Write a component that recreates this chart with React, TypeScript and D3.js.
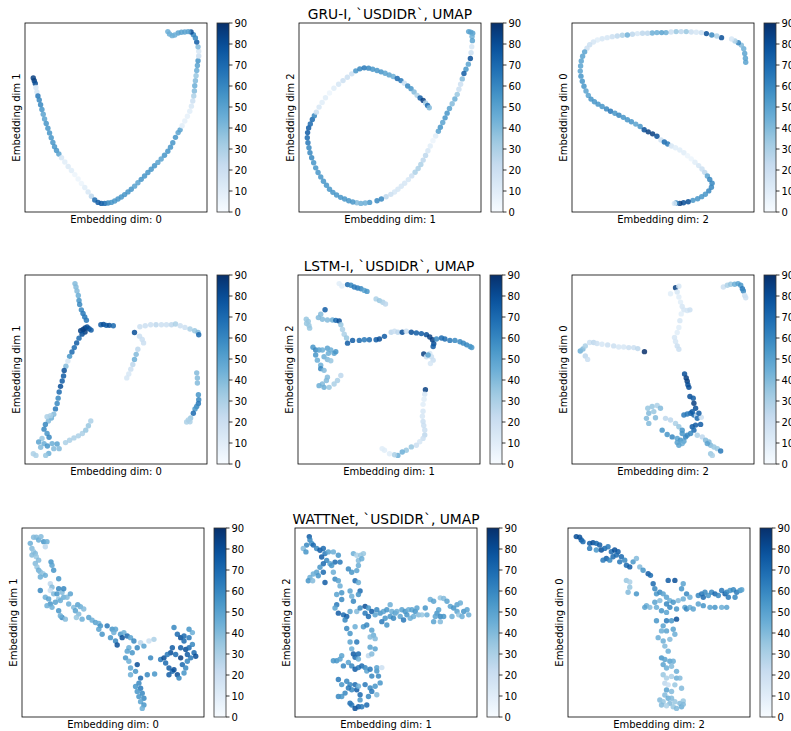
import React from 'react';
import * as d3 from 'd3';

type P = [number, number, number];

// embedding coordinates (arbitrary units) and value per point
const gruDim01: P[] = [[100,237,85],[103,245,85],[106,253,80],[108,265,15],[111,278,15],[114,290,65],[118,302,60],[122,316,60],[126,330,55],[130,344,50],[134,358,50],[139,371,55],[144,385,55],[149,399,55],[154,413,55],[159,427,55],[164,440,55],[170,451,55],[177,461,50],[185,472,15],[195,485,10],[205,498,12],[215,510,10],[225,522,5],[235,535,5],[245,548,5],[255,560,10],[265,573,15],[275,586,25],[285,597,70],[295,604,75],[305,607,75],[315,607,70],[325,606,60],[335,604,55],[345,600,55],[355,594,55],[365,588,55],[375,581,55],[385,573,55],[395,565,55],[405,556,50],[415,546,50],[425,536,55],[435,526,55],[445,516,55],[455,506,55],[465,496,55],[475,486,50],[485,476,50],[495,465,55],[505,453,55],[513,441,55],[520,428,55],[528,412,55],[536,398,50],[542,390,50],[548,378,10],[556,364,8],[564,350,8],[571,335,10],[576,320,15],[580,305,20],[583,290,30],[585,275,40],[586,260,45],[588,245,40],[590,230,35],[592,215,45],[594,200,50],[596,186,55],[598,172,20],[598,158,15],[596,145,40],[592,131,75],[588,119,60],[582,109,60],[575,101,80],[566,100,50],[556,101,50],[546,102,50],[536,104,50],[526,110,45],[518,112,45],[510,107,45],[505,100,45]];

const gruDim12: P[] = [[590,95,50],[596,97,50],[602,100,50],[600,110,45],[601,122,50],[599,140,15],[597,158,20],[595,175,80],[589,192,50],[582,207,55],[576,220,75],[571,236,40],[566,252,20],[561,267,20],[556,282,35],[549,296,45],[541,310,40],[533,324,50],[526,338,55],[520,352,55],[513,366,50],[506,380,55],[500,392,50],[492,406,10],[484,420,5],[476,436,10],[469,450,15],[462,464,25],[455,478,25],[448,491,30],[440,503,30],[431,514,30],[421,525,20],[411,536,15],[400,547,15],[390,556,15],[380,565,15],[370,573,15],[359,580,20],[345,587,25],[331,594,60],[318,599,60],[296,604,55],[283,606,45],[270,607,45],[258,605,40],[246,603,55],[234,599,55],[222,594,55],[210,589,55],[198,582,55],[187,574,55],[177,565,55],[168,553,55],[159,541,55],[151,528,55],[143,515,55],[136,501,55],[130,486,55],[124,471,60],[119,456,60],[116,441,60],[113,426,65],[111,411,70],[112,396,75],[115,382,75],[120,370,70],[126,357,70],[132,346,60],[138,335,20],[146,320,15],[155,306,10],[165,292,10],[177,278,5],[190,264,10],[204,252,15],[217,241,20],[230,231,20],[243,221,20],[255,212,55],[267,206,60],[280,203,65],[293,204,60],[305,207,55],[318,211,55],[330,215,55],[342,219,50],[354,224,50],[366,229,45],[378,235,70],[389,241,65],[399,249,20],[409,257,60],[419,265,55],[428,275,40],[437,285,30],[446,293,75],[455,300,85],[462,308,30],[468,315,70],[473,322,40]];

const gruDim20: P[] = [[642,188,50],[641,176,50],[639,162,50],[636,148,45],[629,137,40],[620,130,60],[610,125,30],[600,119,15],[570,115,80],[556,110,30],[541,107,60],[525,103,80],[510,100,20],[495,99,15],[480,98,20],[465,97,35],[450,97,25],[435,97,35],[420,98,20],[405,100,45],[392,100,50],[378,100,45],[364,101,45],[350,102,25],[335,102,25],[320,103,15],[305,105,25],[290,107,45],[275,108,30],[260,110,25],[245,112,20],[230,115,15],[215,118,15],[201,122,10],[189,128,15],[178,136,20],[170,146,20],[163,157,50],[157,170,50],[153,184,50],[151,199,50],[150,214,50],[152,229,55],[156,244,55],[161,259,55],[167,273,50],[174,286,50],[182,297,55],[192,305,55],[203,312,55],[215,319,55],[228,326,60],[240,333,65],[253,339,55],[265,345,60],[278,351,55],[290,358,55],[302,364,55],[315,371,50],[328,378,55],[340,388,80],[352,394,85],[365,400,85],[378,407,80],[390,418,20],[400,424,70],[410,430,65],[421,436,15],[433,441,10],[446,448,10],[458,456,10],[469,465,5],[480,474,5],[491,484,10],[502,494,15],[512,504,20],[520,514,25],[528,525,50],[535,535,60],[542,546,60],[540,558,60],[532,569,60],[522,579,55],[511,586,55],[499,592,55],[485,597,55],[471,601,80],[457,604,80],[446,606,85],[435,605,60],[430,606,15]];

const lstmDim01: P[] = [[228,100,40],[231,110,40],[234,122,40],[238,135,45],[240,150,55],[242,162,60],[247,178,60],[252,189,65],[257,199,65],[262,209,65],[245,240,85],[252,236,85],[258,232,85],[264,229,80],[270,234,80],[258,244,85],[249,250,80],[276,238,75],[305,222,75],[313,221,80],[321,224,75],[330,224,80],[342,225,70],[240,262,70],[233,276,75],[226,290,70],[219,303,70],[212,316,55],[207,330,15],[201,345,40],[196,358,80],[194,374,75],[190,389,75],[185,405,80],[181,422,70],[178,440,60],[175,456,60],[170,472,65],[165,488,40],[158,499,45],[149,508,40],[140,518,60],[136,532,60],[145,545,55],[151,556,60],[130,560,35],[120,570,50],[136,575,45],[146,582,55],[160,575,45],[175,576,50],[165,590,40],[150,604,45],[141,610,35],[104,605,30],[112,610,30],[126,586,40],[181,590,40],[145,495,30],[155,492,30],[200,572,30],[212,565,30],[225,558,30],[238,552,30],[250,545,30],[260,535,35],[268,522,35],[275,508,30],[405,245,80],[421,228,20],[437,225,20],[453,222,20],[469,222,25],[485,222,20],[500,222,20],[515,222,25],[527,220,30],[541,225,20],[555,230,20],[570,235,30],[584,240,35],[594,245,40],[596,252,70],[420,256,20],[428,266,20],[432,276,20],[415,295,25],[410,310,40],[405,325,45],[400,340,25],[394,354,20],[388,368,15],[382,380,15],[590,365,40],[592,380,40],[592,395,40],[595,430,55],[596,445,60],[595,456,65],[590,465,60],[585,472,55],[580,485,70],[572,499,35],[565,505,30],[560,511,30],[570,510,30]];

const lstmDim12: P[] = [[210,105,10],[218,112,10],[235,108,70],[245,110,60],[255,115,65],[265,118,65],[275,120,60],[285,125,50],[293,128,55],[320,150,30],[330,155,35],[340,160,30],[348,165,25],[168,182,75],[155,195,40],[148,205,40],[160,210,40],[175,212,40],[190,212,45],[200,213,70],[210,215,80],[215,226,35],[220,240,30],[225,254,30],[232,265,35],[112,210,35],[118,216,35],[113,222,35],[120,228,35],[122,236,35],[235,280,75],[250,272,75],[270,272,70],[285,270,65],[300,270,70],[320,270,75],[330,268,80],[345,260,75],[365,248,25],[375,245,20],[385,248,25],[398,248,80],[410,245,20],[425,248,80],[440,250,75],[455,252,75],[470,255,80],[480,262,85],[488,270,85],[492,282,80],[490,290,75],[500,268,60],[515,265,70],[525,268,70],[540,272,65],[555,272,60],[570,276,60],[580,280,60],[590,285,60],[600,290,55],[605,293,55],[462,312,85],[470,320,20],[480,310,15],[485,320,20],[490,330,20],[482,340,15],[475,315,50],[132,292,55],[140,300,60],[150,300,50],[160,300,45],[175,295,50],[185,300,45],[178,310,45],[165,320,45],[175,328,40],[185,332,35],[195,310,50],[200,305,55],[140,315,55],[145,330,45],[155,345,45],[155,355,60],[165,360,40],[175,380,40],[172,390,40],[160,400,40],[165,410,45],[180,410,35],[195,400,30],[205,390,30],[215,375,25],[150,405,45],[467,417,85],[465,430,15],[463,445,10],[460,460,10],[460,480,15],[458,495,15],[460,510,20],[462,522,20],[465,535,20],[465,550,25],[460,560,20],[450,570,15],[440,580,20],[425,585,35],[410,595,35],[398,600,45],[385,610,45],[375,608,30],[360,605,10],[345,595,10],[338,590,10]];

const lstmDim20: P[] = [[578,110,20],[590,105,30],[600,102,35],[612,102,45],[622,100,50],[630,105,55],[635,115,65],[638,122,60],[642,135,20],[645,142,20],[435,112,85],[445,108,15],[440,125,15],[420,130,10],[445,140,10],[450,155,10],[455,168,15],[460,178,15],[470,180,15],[478,178,20],[452,190,10],[448,210,15],[445,230,10],[440,245,10],[432,260,15],[435,272,15],[440,285,20],[445,295,20],[150,300,45],[158,294,40],[165,285,30],[178,275,20],[190,275,25],[200,278,20],[215,280,15],[232,282,20],[250,285,20],[265,288,15],[280,288,15],[295,290,20],[310,290,20],[322,293,25],[342,302,90],[165,315,25],[172,325,20],[462,368,80],[467,380,85],[470,390,85],[472,400,80],[475,408,80],[478,435,80],[488,440,75],[490,455,85],[495,470,80],[485,480,75],[490,490,70],[480,485,75],[470,487,65],[460,490,65],[498,492,20],[500,500,70],[512,497,20],[505,485,75],[485,525,75],[495,520,75],[490,535,70],[510,518,75],[480,545,60],[470,550,60],[500,550,30],[515,555,25],[525,565,40],[535,570,40],[540,580,40],[550,585,35],[560,590,35],[570,597,65],[530,575,50],[540,605,35],[545,610,30],[352,470,35],[365,465,35],[380,462,30],[390,470,40],[370,480,35],[355,485,40],[348,500,40],[355,515,40],[375,498,40],[405,500,25],[420,505,25],[435,515,30],[445,525,35],[455,535,55],[395,535,55],[410,548,55],[425,555,60],[440,560,50],[450,565,55],[460,568,50],[440,572,50],[455,575,45],[445,580,50],[465,555,60],[455,545,55]];

const wattDim01: P[] = [[100,112,40],[108,112,40],[115,120,45],[122,110,40],[130,125,55],[140,125,45],[135,140,25],[90,130,45],[95,145,40],[100,155,35],[105,160,40],[95,165,40],[108,170,35],[115,180,40],[105,190,40],[110,200,35],[115,210,45],[120,215,40],[128,220,35],[120,230,45],[135,225,45],[152,185,55],[155,195,50],[160,210,55],[150,250,25],[155,260,40],[150,270,20],[120,270,60],[160,280,40],[175,235,55],[175,265,60],[170,280,55],[175,295,35],[185,275,40],[190,265,60],[190,290,45],[200,290,40],[210,280,50],[135,290,45],[145,295,50],[150,310,55],[140,315,45],[155,320,45],[165,305,50],[180,300,45],[205,310,45],[175,330,55],[185,350,60],[180,345,45],[195,355,40],[220,320,40],[225,330,50],[232,312,50],[240,318,45],[235,340,40],[245,355,45],[250,325,40],[228,350,35],[265,350,50],[275,358,45],[285,365,50],[295,368,45],[300,375,55],[295,385,50],[305,400,55],[320,375,65],[335,385,55],[345,385,50],[340,395,45],[330,410,55],[345,420,60],[350,432,80],[360,400,55],[370,395,45],[380,405,70],[365,410,80],[390,410,50],[400,420,60],[385,440,45],[380,450,50],[395,455,55],[410,440,60],[420,425,25],[430,435,50],[445,420,20],[460,415,30],[375,470,55],[385,480,45],[390,500,50],[390,520,45],[410,490,80],[405,510,55],[420,530,70],[415,545,60],[405,555,55],[420,560,65],[410,570,55],[425,575,60],[415,585,55],[430,590,60],[420,600,50],[430,610,55],[425,620,45],[440,520,60],[450,470,60],[462,518,55],[480,475,65],[490,470,80],[495,485,70],[505,500,75],[515,510,70],[520,505,80],[530,520,80],[535,530,60],[520,380,60],[530,400,70],[540,410,80],[550,405,70],[565,410,65],[550,420,70],[540,440,75],[555,445,80],[565,440,70],[575,430,60],[580,455,70],[585,465,80],[570,470,65],[560,480,60],[545,490,70],[555,500,60],[525,460,70],[515,440,75],[510,455,80],[500,460,65],[540,470,85],[560,460,75],[550,515,55],[575,395,45],[565,385,55],[505,520,75]];

const wattDim12: P[] = [[118,110,75],[120,120,60],[125,130,55],[110,135,60],[100,145,40],[108,155,55],[130,135,70],[140,145,60],[150,150,75],[160,145,70],[165,160,65],[155,170,75],[170,180,60],[160,190,70],[180,190,50],[175,155,50],[190,155,45],[205,165,55],[210,185,65],[195,185,70],[185,195,55],[150,200,55],[140,215,50],[130,220,45],[120,230,45],[115,240,55],[128,240,40],[145,225,55],[160,215,70],[165,245,75],[190,215,45],[195,235,60],[205,240,50],[210,255,45],[200,280,50],[215,275,55],[240,270,50],[245,285,45],[235,205,60],[245,215,55],[260,210,50],[265,195,45],[250,160,45],[260,165,30],[272,165,35],[280,160,35],[265,180,40],[275,175,45],[255,240,70],[265,245,45],[270,270,70],[265,280,55],[250,300,60],[215,295,60],[200,310,65],[195,320,50],[205,335,75],[220,340,70],[230,345,75],[225,355,60],[240,330,50],[260,330,40],[270,320,60],[285,315,80],[295,320,55],[305,330,75],[285,335,65],[295,345,70],[315,340,50],[320,325,60],[330,335,55],[340,330,50],[350,325,55],[360,310,45],[365,330,45],[375,335,50],[360,345,55],[370,350,60],[345,350,55],[335,360,65],[350,370,55],[380,330,45],[395,325,50],[405,330,55],[415,325,45],[425,325,50],[435,330,55],[440,320,50],[430,345,45],[410,340,55],[390,345,50],[400,355,65],[420,350,45],[445,340,40],[455,340,35],[465,320,55],[470,340,45],[480,295,45],[490,300,50],[500,335,55],[510,345,60],[520,345,55],[495,345,50],[490,360,50],[510,360,40],[505,325,50],[510,290,35],[520,292,40],[530,300,50],[540,315,50],[550,320,55],[545,345,45],[560,330,50],[565,340,35],[575,345,45],[580,330,55],[590,325,50],[595,340,45],[560,310,50],[570,305,45],[230,380,60],[240,395,55],[255,375,45],[280,375,55],[290,370,60],[305,385,50],[310,400,45],[300,405,40],[315,410,40],[240,420,50],[245,440,45],[260,420,65],[265,455,70],[250,455,75],[255,465,70],[265,470,45],[300,435,50],[315,440,50],[295,460,25],[305,455,40],[190,475,55],[200,475,55],[210,470,50],[215,460,50],[220,490,60],[235,480,50],[245,490,60],[255,500,75],[265,495,65],[275,490,70],[285,495,60],[290,505,50],[300,500,65],[305,520,60],[320,505,55],[320,495,50],[325,520,60],[335,495,20],[330,540,55],[205,530,65],[215,545,55],[230,535,60],[240,545,60],[245,560,60],[235,555,65],[225,570,60],[255,545,70],[260,560,75],[265,550,45],[270,575,70],[285,545,65],[300,555,60],[305,565,65],[315,550,55],[295,580,60],[320,575,40],[205,580,60],[215,580,55],[240,600,70],[245,605,65],[255,615,80],[265,610,75],[275,610,65],[290,605,70],[270,590,55]];

const wattDim20: P[] = [[140,110,80],[150,112,80],[155,120,75],[160,125,70],[180,130,75],[190,128,80],[200,130,70],[210,135,75],[200,150,55],[180,145,65],[215,150,80],[225,145,70],[235,140,65],[245,155,70],[255,150,80],[265,155,75],[260,165,70],[250,170,70],[230,175,75],[220,180,65],[240,180,60],[275,170,70],[285,180,60],[270,185,65],[290,195,70],[300,200,75],[310,185,55],[320,175,40],[330,200,40],[340,210,55],[355,220,75],[362,225,70],[290,240,35],[300,245,30],[300,260,35],[295,275,40],[320,280,55],[370,250,70],[375,265,60],[380,280,55],[390,275,60],[400,280,50],[410,290,50],[420,300,45],[415,240,75],[435,240,80],[460,250,50],[455,265,55],[470,280,60],[480,290,45],[460,295,45],[445,300,40],[430,305,55],[410,310,60],[390,300,40],[375,305,50],[350,315,45],[345,320,50],[360,320,40],[380,320,45],[395,330,55],[410,335,50],[420,320,60],[440,325,55],[465,320,50],[470,325,60],[480,320,45],[490,325,50],[505,285,60],[515,280,65],[525,275,60],[520,290,70],[535,285,55],[545,275,60],[555,280,70],[565,285,60],[575,270,65],[585,280,75],[590,275,60],[600,270,55],[610,268,60],[620,275,65],[630,270,55],[635,268,50],[615,290,60],[595,290,65],[540,320,50],[555,320,55],[575,320,45],[590,320,50],[505,310,50],[520,315,55],[410,360,65],[425,360,55],[440,355,80],[380,360,55],[400,375,50],[395,390,45],[410,390,50],[430,385,50],[385,410,45],[400,420,45],[420,415,40],[435,400,45],[405,435,40],[415,450,45],[395,470,55],[405,475,50],[420,480,50],[430,480,45],[400,490,50],[410,500,45],[425,495,40],[440,510,45],[400,520,35],[410,530,30],[425,525,30],[440,530,45],[450,530,40],[405,545,25],[415,550,20],[435,550,35],[455,560,40],[410,565,50],[425,570,40],[405,580,40],[415,590,45],[390,595,40],[400,600,35],[420,605,40],[435,600,35],[450,605,40],[460,598,35],[395,610,40],[410,612,30],[430,615,35],[440,620,40],[455,615,45],[460,608,40],[425,590,40]];

const models = ['GRU-I', 'LSTM-I', 'WATTNet'];
const rowsData: P[][][] = [
  [gruDim01, gruDim12, gruDim20],
  [lstmDim01, lstmDim12, lstmDim20],
  [wattDim01, wattDim12, wattDim20],
];
const xLabels = ['Embedding dim: 0', 'Embedding dim: 1', 'Embedding dim: 2'];
const yLabels = ['Embedding dim 1', 'Embedding dim 2', 'Embedding dim 0'];
const cbTicks = [0, 10, 20, 30, 40, 50, 60, 70, 80, 90];

const W = 791, H = 731;
const rowTops = [23, 275, 528];
const rowLefts = [[25, 299, 572], [25, 298, 572], [22, 295, 568]];
const AX_W = 182, AX_H = 189;
const CB_GAP = 10, CB_W = 12;
const FONT = 'DejaVu Sans, sans-serif';

const blues = d3.piecewise(d3.interpolateRgb, d3.schemeBlues[9]);
const color = d3.scaleSequential(blues).domain([0, 90]);

function padded(ext: [number, number]): [number, number] {
  const r = ext[1] - ext[0];
  return [ext[0] - 0.05 * r, ext[1] + 0.05 * r];
}

function Panel({ data, left, top, title, xLabel, yLabel, id }: any) {
  const x = d3.scaleLinear().domain(padded(d3.extent(data, (d: P) => d[0]) as any)).range([left, left + AX_W]);
  // second embedding dim stored top-down
  const y = d3.scaleLinear().domain(padded(d3.extent(data, (d: P) => d[1]) as any)).range([top, top + AX_H]);
  const cbX = left + AX_W + CB_GAP;
  const cy = d3.scaleLinear().domain([0, 90]).range([top + AX_H, top]);
  const stops = d3.range(0, 1.0001, 0.05);
  return (
    <g>
      <defs>
        <clipPath id={`clip-${id}`}>
          <rect x={left} y={top} width={AX_W} height={AX_H} />
        </clipPath>
        <linearGradient id={`grad-${id}`} x1="0" y1="1" x2="0" y2="0">
          {stops.map(t => <stop key={t} offset={t} stopColor={blues(t)} />)}
        </linearGradient>
      </defs>
      <g clipPath={`url(#clip-${id})`}>
        {data.map((d: P, i: number) => (
          <circle key={i} cx={x(d[0])} cy={y(d[1])} r={2.7} fill={color(d[2])} fillOpacity={0.85} />
        ))}
      </g>
      <rect x={left} y={top} width={AX_W} height={AX_H} fill="none" stroke="#000" strokeWidth={0.8} />
      {title && (
        <text x={left + AX_W / 2} y={top - 4} textAnchor="middle" fontSize={13.8} fontFamily={FONT}>{title}</text>
      )}
      <text x={left + AX_W / 2} y={top + AX_H + 10.5} textAnchor="middle" fontSize={10} fontFamily={FONT}>{xLabel}</text>
      <text transform={`translate(${left - 5},${top + AX_H / 2}) rotate(-90)`} textAnchor="middle" fontSize={10} fontFamily={FONT}>{yLabel}</text>
      <rect x={cbX} y={top} width={CB_W} height={AX_H} fill={`url(#grad-${id})`} stroke="#333" strokeWidth={0.8} />
      {cbTicks.map(t => (
        <g key={t}>
          <line x1={cbX + CB_W} x2={cbX + CB_W + 3.5} y1={cy(t)} y2={cy(t)} stroke="#000" strokeWidth={0.8} />
          <text x={cbX + CB_W + 5.5} y={cy(t)} dy="0.35em" fontSize={10} fontFamily={FONT}>{t}</text>
        </g>
      ))}
    </g>
  );
}

export default function App() {
  return (
    <svg width={W} height={H} style={{ position: 'absolute', left: 0, top: 0, background: '#fff' }}>
      <rect width={W} height={H} fill="#fff" />
      {rowsData.map((row, ri) =>
        row.map((data, ci) => (
          <Panel
            key={`${ri}-${ci}`}
            id={`${ri}-${ci}`}
            data={data}
            left={rowLefts[ri][ci]}
            top={rowTops[ri]}
            title={ci === 1 ? `${models[ri]}, \`USDIDR\`, UMAP` : null}
            xLabel={xLabels[ci]}
            yLabel={yLabels[ci]}
          />
        ))
      )}
    </svg>
  );
}
